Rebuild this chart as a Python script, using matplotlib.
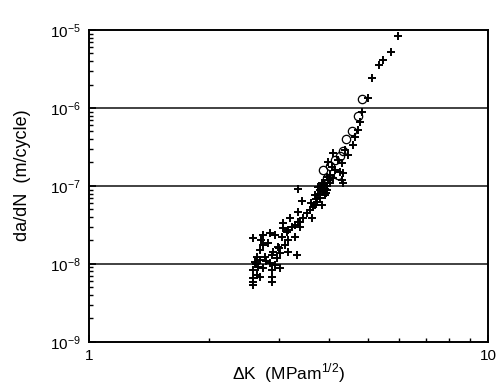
import numpy as np
import matplotlib
matplotlib.use('Agg')
import matplotlib.pyplot as plt
from matplotlib.ticker import LogLocator, NullFormatter, FixedLocator, FixedFormatter

plt.rcParams['font.family'] = ['Liberation Sans', 'DejaVu Sans']
plt.rcParams['mathtext.fontset'] = 'custom'
plt.rcParams['mathtext.rm'] = 'Liberation Sans'

# crack growth data: delta K (MPa m^1/2), da/dN (m/cycle)
plus_dk = [5.95, 5.71, 5.46, 5.33, 5.12, 5.00, 4.83, 4.78, 4.64, 4.59, 4.72,
           4.09, 3.97, 4.31, 4.06, 4.26, 4.33, 3.95, 4.31, 4.33, 4.46, 4.38, 4.21, 4.14, 4.02,
           3.34, 3.42, 3.68, 3.75, 3.84, 3.73, 3.64, 3.58, 3.52, 3.34, 3.44, 3.34, 3.38, 3.28,
           3.15, 3.23, 3.06, 3.28, 3.38, 3.62,
           3.79, 3.86, 3.90, 3.95, 3.86, 3.79, 3.90, 3.95, 4.02, 3.84, 3.68, 3.75, 3.97, 4.09,
           3.70, 3.82, 3.92, 3.60, 3.88,
           2.58, 2.73, 2.84, 2.93, 3.04, 3.13, 2.73, 2.81, 2.98, 3.10, 3.15, 2.68, 2.89, 3.01,
           2.64, 2.76, 2.87, 2.96, 2.61, 2.68, 2.84, 2.66, 2.73, 2.58, 2.87, 3.01, 2.64, 2.68,
           2.87, 2.58, 2.58, 2.87, 2.58, 3.32, 3.19, 3.06, 3.15, 2.62, 2.70, 2.78, 2.92, 3.00]
plus_rate = [8.4e-6, 5.2e-6, 4.1e-6, 3.6e-6, 2.4e-6, 1.34e-6, 8.9e-7, 6.6e-7, 4.25e-7, 3.36e-7, 5.2e-7,
             2.65e-7, 2.03e-7, 1.97e-7, 1.75e-7, 1.51e-7, 1.47e-7, 1.3e-7, 1.19e-7, 1.1e-7, 2.5e-7, 2.9e-7, 2.15e-7, 1.6e-7, 1.38e-7,
             9.2e-8, 6.4e-8, 7.7e-8, 9.7e-8, 1.1e-7, 6.2e-8, 5.4e-8, 4.9e-8, 4.5e-8, 4.7e-8, 3.9e-8, 3.5e-8, 3.0e-8, 3.2e-8,
             2.73e-8, 3.0e-8, 2.9e-8, 2.2e-8, 3.5e-8, 3.9e-8,
             8.9e-8, 1.03e-7, 9.2e-8, 1.0e-7, 8.4e-8, 7.0e-8, 7.7e-8, 8.9e-8, 1.1e-7, 5.7e-8, 5.7e-8, 8.0e-8, 1.19e-7, 1.25e-7,
             6.8e-8, 9.5e-8, 8.2e-8, 6.0e-8, 1.05e-7,
             2.15e-8, 2.35e-8, 2.5e-8, 2.35e-8, 2.2e-8, 2.57e-8, 1.75e-8, 1.86e-8, 1.65e-8, 1.75e-8, 1.43e-8, 1.51e-8, 1.43e-8, 1.38e-8,
             1.23e-8, 1.23e-8, 1.3e-8, 1.19e-8, 1.06e-8, 1.12e-8, 1.03e-8, 9.2e-9, 8.9e-9, 8.4e-9, 8.4e-9, 8.9e-9, 7.2e-9, 6.8e-9,
             6.8e-9, 6.6e-9, 5.4e-9, 5.9e-9, 5.9e-9, 1.3e-8, 3.9e-8, 3.3e-8, 2.0e-8, 1.0e-8, 2.0e-8, 1.1e-8, 9.6e-9, 1.6e-8]

circle_dk = [4.83, 4.72, 4.56, 4.40, 4.33, 4.14, 3.86, 4.21, 4.26, 3.95, 4.02]
circle_rate = [1.30e-6, 7.8e-7, 5.1e-7, 4.0e-7, 2.8e-7, 2.15e-7, 1.6e-7, 1.38e-7, 2.4e-7, 1.25e-7, 1.8e-7]

grid_levels = [1e-8, 1e-7, 1e-6]

fig = plt.figure(figsize=(4.96, 3.85), dpi=100)
ax = fig.add_axes([0.179, 0.112, 0.805, 0.81])

for g in grid_levels:
    ax.axhline(g, color='#333333', lw=1.3, zorder=1)

ax.plot(plus_dk, plus_rate, linestyle='none', marker='+', ms=6, mew=1.4, color='black', zorder=3)
ax.plot(circle_dk, circle_rate, linestyle='none', marker='o', ms=6, mew=0.9,
        mfc='none', mec='black', zorder=3)

ax.set_xscale('log')
ax.set_yscale('log')
ax.set_xlim(1, 10)
ax.set_ylim(1e-9, 1e-5)

ax.xaxis.set_major_locator(FixedLocator([1, 10]))
ax.xaxis.set_major_formatter(FixedFormatter(['1', '10']))
ax.xaxis.set_minor_locator(LogLocator(base=10, subs=np.arange(2, 10)))
ax.xaxis.set_minor_formatter(NullFormatter())
ax.yaxis.set_minor_locator(LogLocator(base=10, subs=np.arange(2, 10), numticks=20))
ax.yaxis.set_minor_formatter(NullFormatter())
ax.xaxis.get_offset_text().set_visible(False)
ax.yaxis.get_offset_text().set_visible(False)

ax.tick_params(which='major', direction='in', length=5, width=1.2, labelsize=11)
ax.tick_params(which='minor', direction='in', length=3, width=1.0)
ax.tick_params(axis='x', which='both', top=False, pad=5)
ax.tick_params(axis='y', which='both', right=False, pad=6)
for s in ax.spines.values():
    s.set_linewidth(1.4)

ax.set_xlabel(r'$\Delta$K  (MPam$^{1/2}$)', fontsize=12.5, labelpad=-1)
ax.set_ylabel('da/dN  (m/cycle)', fontsize=13)
ax.yaxis.set_label_coords(-0.145, 0.535)

fig.savefig('out.png', dpi=100)
